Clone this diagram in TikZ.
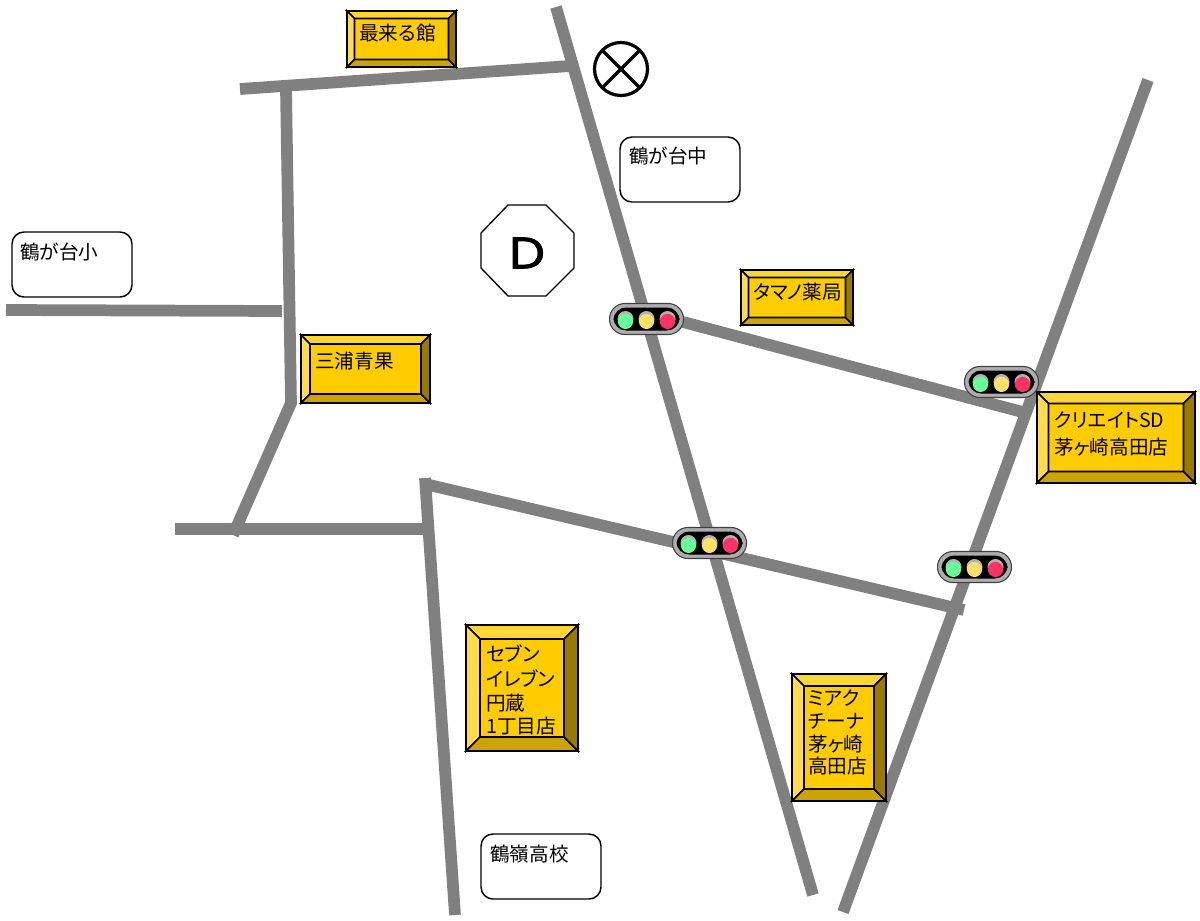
\documentclass[tikz,border=0pt]{standalone}
\usepackage{fontspec}
\setmainfont[RawFeature=+palt]{Noto Sans CJK JP}
\newfontfamily\latinD[FakeBold=2,FakeStretch=1.15]{Poppins}
\definecolor{roadgray}{HTML}{808080}
\definecolor{bface}{HTML}{FFCC00}
\definecolor{btop}{HTML}{FFD633}
\definecolor{bleft}{HTML}{FFDB4D}
\definecolor{bbottom}{HTML}{CCA300}
\definecolor{bright}{HTML}{997A00}
\definecolor{lampg}{HTML}{66FF99}
\definecolor{lampy}{HTML}{FFE066}
\definecolor{lampr}{HTML}{FF3366}
\tikzset{
  road/.style={draw=roadgray,line width=8.8pt,line cap=butt,line join=miter},
  lbl/.style={anchor=west,inner sep=0pt,font=\fontsize{14.7pt}{17pt}\selectfont,align=left},
  memo/.style={draw=black,fill=white,line width=1.1pt,rounded corners=9pt},
  edge/.style={draw=black,line width=1.25pt,line join=miter}
}
\newcommand{\bevelbox}[5]{%
  \fill[bface] (#1,#2) rectangle (#3,#4);
  \path[edge,fill=btop] (#1,#2)--(#3,#2)--(#3-#5,#2+#5)--(#1+#5,#2+#5)--cycle;
  \path[edge,fill=bleft] (#1,#2)--(#1+#5,#2+#5)--(#1+#5,#4-#5)--(#1,#4)--cycle;
  \path[edge,fill=bbottom] (#1,#4)--(#1+#5,#4-#5)--(#3-#5,#4-#5)--(#3,#4)--cycle;
  \path[edge,fill=bright] (#3,#2)--(#3,#4)--(#3-#5,#4-#5)--(#3-#5,#2+#5)--cycle;
}
\newcommand{\sglamp}[3]{%
  \fill[black!30] (#1,#2) circle[radius=8];
  \fill[#3] (#1,#2+2.4) circle[radius=7.6];
}
\newcommand{\signal}[2]{%
  \draw[draw=black!75,fill=black!32,line width=.8pt,rounded corners=11.5pt] (#1-37,#2-15.5) rectangle (#1+37,#2+15.5);
  \fill[black,rounded corners=9.5pt] (#1-33,#2-11.5) rectangle (#1+33,#2+11.5);
  \sglamp{#1-21}{#2}{lampg}
  \sglamp{#1}{#2}{lampy}
  \sglamp{#1+21}{#2}{lampr}
}
\begin{document}
\begin{tikzpicture}[x=0.75pt,y=-0.75pt]
\useasboundingbox (0,0) rectangle (1200,921);
\fill[white] (0,0) rectangle (1200,921);
% roads
\draw[road] (240,89)--(570,66);
\draw[road] (556,7)--(813,895);
\draw[road] (286,89)--(291,403)--(233,535);
\draw[road] (6,310)--(282,311);
\draw[road] (175,529)--(427,529);
\draw[road] (425,478)--(455,915);
\draw[road] (425,484)--(964,610);
\draw[road] (683,322)--(1030,414);
\draw[road] (1148,80)--(843,912);
% memo boxes
\draw[memo] (620,137) rectangle (740,202);
\node[lbl] (chu) at (629,156) {鶴が台中};
\draw[memo] (12,232) rectangle (132,297);
\node[lbl] (sho) at (20,252) {鶴が台小};
\draw[memo] (481,834) rectangle (601,899);
\node[lbl] (ko) at (490,854) {鶴嶺高校};
% marks
\draw[black,line width=2.4pt] (621,69) circle[radius=26.5];
\draw[black,line width=2.4pt] (602.3,50.3)--(639.7,87.7) (639.7,50.3)--(602.3,87.7);
\draw[black,fill=white,line width=1pt] (508,205)--(546,205)--(574,233)--(574,268)--(546,296)--(508,296)--(481,268)--(481,233)--cycle;
\node[inner sep=0pt] (dmark) at (527,253) {\latinD\fontsize{33pt}{36pt}\selectfont D};
% shops
\bevelbox{347}{11}{456}{67}{7.5}
\node[lbl] (saikuru) at (359,33) {最来る館};
\bevelbox{741}{270}{853}{325}{7.5}
\node[lbl] (tamano) at (753,292) {タマノ薬局};
\bevelbox{301}{335}{430}{403}{9}
\node[lbl] (miura) at (315,361) {三浦青果};
\bevelbox{1037}{392}{1195}{483}{11.5}
\node[lbl] (cr1) at (1054,420) {クリエイトSD};
\node[lbl] (cr2) at (1054,447) {茅ヶ崎高田店};
\bevelbox{466}{625}{578}{751}{14}
\node[lbl] (se1) at (486,653) {セブン};
\node[lbl] (se2) at (486,678) {イレブン};
\node[lbl] (se3) at (486,703) {円蔵};
\node[lbl] (se4) at (486,726) {1丁目店};
\bevelbox{792}{674}{886}{801}{12}
\node[lbl] (mi1) at (808,698) {ミアク};
\node[lbl] (mi2) at (808,721) {チーナ};
\node[lbl] (mi3) at (808,744) {茅ヶ崎};
\node[lbl] (mi4) at (808,766) {高田店};
% signals
\signal{646.5}{319}
\signal{1001.5}{382}
\signal{709.5}{543}
\signal{974.5}{567}
\end{tikzpicture}
\end{document}
